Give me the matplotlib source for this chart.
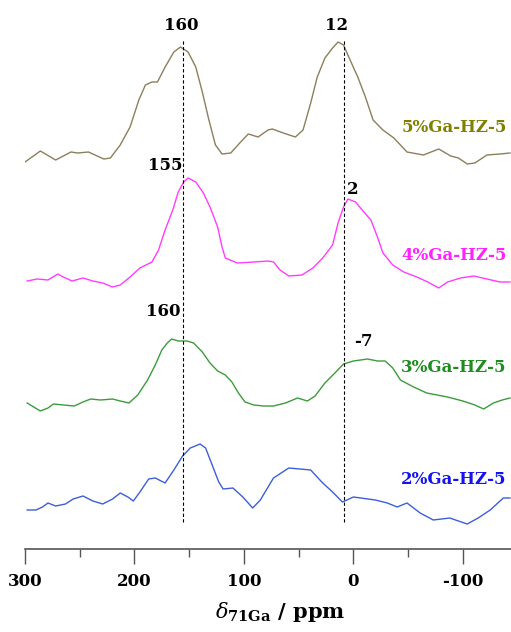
import numpy as np
import matplotlib
matplotlib.use("Agg")
import matplotlib.pyplot as plt

plt.rcParams['font.family'] = 'DejaVu Serif'
plt.rcParams['mathtext.fontset'] = 'dejavuserif'

# 71Ga MAS NMR spectra, shift in ppm, intensity relative to each baseline
ppm_5 = [300, 286, 272, 258, 252, 242, 228, 222, 213, 204, 196, 190, 184, 179, 172, 164,
         158, 151, 144, 138, 132, 126, 120, 112, 103, 96, 87, 78, 74, 64, 53, 46,
         39, 33, 26, 19, 14, 9, 3, -4, -11, -18, -27, -37, -49, -64, -78, -89,
         -96, -104, -111, -122, -134, -143]
int_5 = [-4, 7, -2, 6, 5, 6, -1, 0, 13, 31, 58, 73, 76, 76, 91, 106,
         111, 106, 91, 66, 38, 13, 4, 5, 16, 24, 21, 28, 29, 25, 21, 28,
         55, 81, 100, 110, 116, 113, 98, 81, 61, 38, 28, 20, 6, 3, 9, 2,
         0, -6, -5, 3, 4, 5]

ppm_4 = [298, 289, 279, 270, 265, 257, 247, 238, 229, 220, 213, 204, 195, 184, 178, 172,
         165, 160, 155, 151, 144, 137, 131, 124, 120, 117, 106, 91, 78, 73, 67, 59,
         47, 37, 28, 19, 14, 9, 5, -2, -8, -16, -22, -27, -36, -46, -58, -68,
         -78, -86, -98, -110, -122, -134, -143]
int_4 = [0, 2, 1, 7, 4, 0, 3, 0, -2, -6, -4, 4, 13, 19, 31, 51,
         71, 89, 99, 103, 99, 88, 74, 54, 34, 23, 18, 19, 20, 19, 11, 5,
         6, 13, 23, 36, 58, 74, 82, 79, 71, 61, 44, 28, 16, 9, 4, -1,
         -7, -1, 3, 5, 2, -1, -1]

ppm_3 = [298, 292, 286, 279, 274, 265, 255, 247, 240, 231, 220, 213, 205, 197, 188, 181,
         175, 170, 166, 160, 152, 146, 138, 131, 124, 117, 111, 105, 99, 91, 82, 73,
         62, 51, 42, 35, 26, 16, 9, 0, -13, -22, -29, -36, -43, -55, -67, -86,
         -100, -111, -119, -128, -136, -143]
int_3 = [1, -3, -7, -4, 0, -1, -2, 2, 5, 4, 5, 3, 1, 9, 24, 39,
         54, 61, 65, 63, 63, 61, 52, 41, 33, 29, 22, 11, 2, -1, -2, -2,
         1, 6, 3, 8, 21, 32, 40, 43, 45, 43, 43, 36, 24, 17, 11, 7,
         3, -1, -5, 1, 4, 6]

ppm_2 = [298, 290, 284, 279, 272, 263, 256, 247, 238, 229, 220, 213, 206, 201, 195, 187,
         181, 172, 164, 156, 149, 140, 135, 129, 123, 119, 110, 101, 92, 85, 73, 59,
         39, 28, 19, 10, 0, -20, -31, -40, -49, -61, -73, -88, -104, -114, -125, -137,
         -143]
int_2 = [-5, -5, -2, 2, -1, 1, 6, 9, 4, 1, 6, 12, 8, 4, 13, 26,
         27, 22, 35, 49, 57, 61, 57, 40, 23, 16, 17, 8, -3, 5, 27, 37,
         35, 22, 13, 3, 8, 5, 2, -2, 2, -8, -15, -13, -19, -13, -5, 7,
         7]

samples = ['5%Ga-HZ-5', '4%Ga-HZ-5', '3%Ga-HZ-5', '2%Ga-HZ-5']
peak_marks = [156, 9]

spectra = [(ppm_5, int_5), (ppm_4, int_4), (ppm_3, int_3), (ppm_2, int_2)]
offsets = [391, 268, 145, 44]
line_colors = ['#8c7f5c', '#ff3cff', '#3c9c3c', '#3c5fd8']
label_colors = ['#808000', '#ff22ff', '#1e8c1e', '#1414f0']
label_y = [421, 294, 182, 70]

# peak annotations: (ppm, height, text)
peak_labels = [(157, 524, '160'), (15, 524, '12'),
               (172, 383, '155'), (1, 359, '2'),
               (174, 238, '160'), (-9, 207, '-7')]

fig = plt.figure(figsize=(5.11, 6.32), dpi=100)
ax = fig.add_axes([25 / 511, 83 / 632, 486 / 511, 549 / 632])

for (x, y), off, c in zip(spectra, offsets, line_colors):
    ax.plot(x, np.array(y) + off, color=c, lw=1.0)

for name, yy, c in zip(samples, label_y, label_colors):
    ax.text(-140, yy, name, color=c, fontsize=12, fontweight='bold',
            ha='right', va='center')

ax.vlines(peak_marks, 27, 509, colors='black', linestyles=(0, (3, 2)), lw=0.8)

for px, py, t in peak_labels:
    ax.text(px, py, t, fontsize=12, fontweight='bold', ha='center', va='center')

ax.set_xlim(300, -144)
ax.set_ylim(0, 549)
for s in ['top', 'left', 'right']:
    ax.spines[s].set_visible(False)
ax.spines['bottom'].set_color('#555555')
ax.spines['bottom'].set_linewidth(1.2)
ax.set_yticks([])
ax.set_xticks([300, 200, 100, 0, -100])
ax.set_xticklabels(['300', '200', '100', '0', '-100'], fontweight='bold', fontsize=12)
ax.set_xticks([250, 150, 50, -50], minor=True)
ax.tick_params(axis='x', which='major', direction='out', length=11, width=1.0,
               color='#555555', pad=6)
ax.tick_params(axis='x', which='minor', direction='out', length=6, width=1.0,
               color='#555555')
ax.set_xlabel(r'$\mathit{\delta}_{\mathbf{71Ga}}$ / ppm', fontsize=15,
              fontweight='bold', va='center')
ax.xaxis.set_label_coords(0.525, -0.115)

fig.savefig('out.png', dpi=100)
